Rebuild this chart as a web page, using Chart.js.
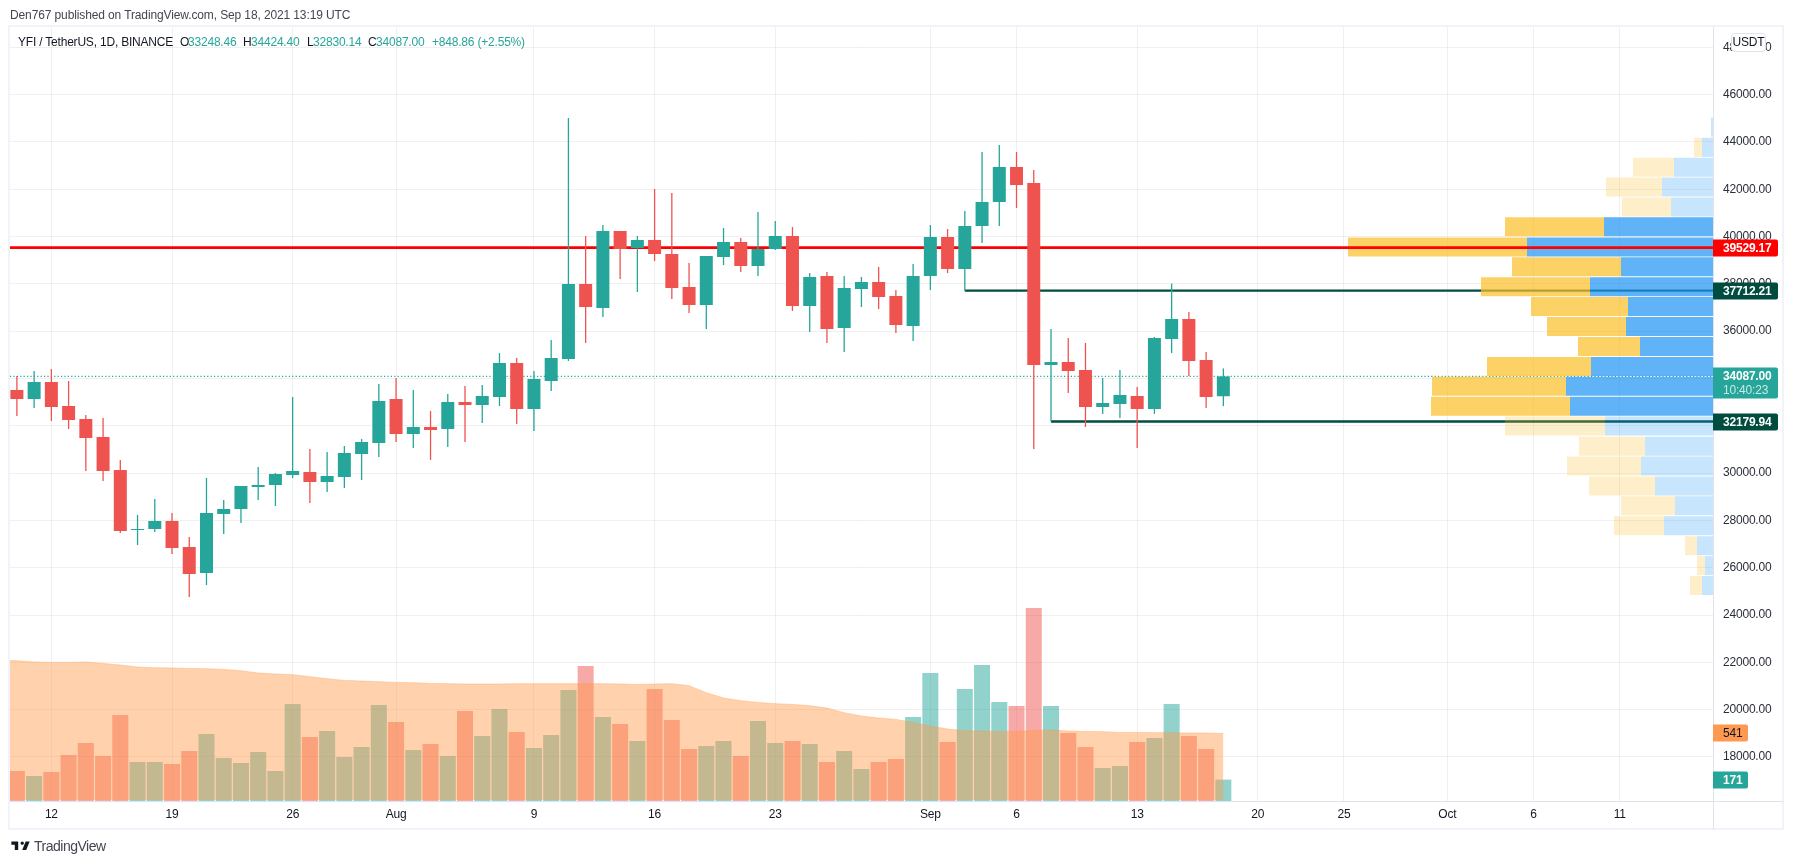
<!DOCTYPE html>
<html>
<head>
<meta charset="utf-8">
<title>YFI / TetherUS</title>
<script src="https://cdn.jsdelivr.net/npm/chart.js"></script>
<style>
  html, body { margin: 0; padding: 0; background: #fff; overflow: hidden; }
  body { width: 1793px; height: 864px; position: relative; font-family: "Liberation Sans", sans-serif; color: #434651; }
  canvas { position: absolute; left: 0; top: 0; }
  .txt { position: absolute; white-space: nowrap; font-size: 12px; line-height: 14px; letter-spacing: -0.2px; }
  .lab { color: #131722; top: 35px; }
  .up { color: #26a69a; top: 35px; }
  #usdt { position: absolute; left: 1731px; top: 33px; width: 33px; height: 17px; line-height: 17px; text-align: center;
          background: #fff; border: 1px solid #e0e3eb; border-radius: 4px; font-size: 12px; letter-spacing: -0.2px; color: #131722; }
  #logo { position: absolute; left: 10px; top: 838px; }
</style>
</head>
<body>
<canvas id="chart" width="1793" height="864"></canvas>
<div class="txt" style="left:10px;top:8px;letter-spacing:-0.12px">Den767 published on TradingView.com, Sep 18, 2021 13:19 UTC</div>
<div class="txt lab" style="left:18px">YFI / TetherUS, 1D, BINANCE</div>
<div class="txt lab" style="left:180px">O</div>
<div class="txt up" style="left:188px">33248.46</div>
<div class="txt lab" style="left:243px">H</div>
<div class="txt up" style="left:251px">34424.40</div>
<div class="txt lab" style="left:307px">L</div>
<div class="txt up" style="left:313px">32830.14</div>
<div class="txt lab" style="left:368px">C</div>
<div class="txt up" style="left:376px">34087.00</div>
<div class="txt up" style="left:432px">+848.86 (+2.55%)</div>
<div id="usdt">USDT</div>
<svg id="logo" width="21" height="16" viewBox="0 0 36 28"><path fill="#131722" d="M14 6H2v6h6v9h6V6zm14 15h-7l6-15h7l-6 15zm-7-9a3 3 0 1 0 0-6 3 3 0 0 0 0 6z"/></svg>
<div class="txt" style="left:34px;top:838px;font-size:14px;line-height:17px;letter-spacing:-0.5px;color:#434651">TradingView</div>
<script>
// day of year 2021, 191 = Jul 10, 261 = Sep 18
const days = [191,192,193,194,195,196,197,198,199,200,201,202,203,204,205,206,207,208,209,210,211,212,213,214,215,216,217,218,219,220,221,222,223,224,225,226,227,228,229,230,231,232,233,234,235,236,237,238,239,240,241,242,243,244,245,246,247,248,249,250,251,252,253,254,255,256,257,258,259,260,261];

const opens = [33513,33133,33851,32837,32287,31526,30131,27595,27638,27976,
  26877,25778,28272,28483,29413,29497,29920,30047,29624,29836,
  30808,31273,33133,31653,31949,31865,33006,32879,33217,34654,
  32710,33894,34823,37994,36979,40234,39515,39854,39262,37867,
  37106,39135,39769,38755,39473,40023,37064,38332,36134,37782,
  38078,37486,36218,38332,39980,38628,40445,41460,42939,42263,
  34570,34697,34358,32795,32921,33259,32710,35669,36514,34781,
  33248.46];
const highs = [34105,34316,34401,33894,32456,32330,30554,28229,28906,28314,
  27299,29793,28863,29455,30258,30005,33217,31019,30892,31146,
  31442,33767,34020,33513,32625,33344,33682,33724,35077,34866,
  34316,35627,45011,40023,40488,40234,40023,42009,41840,38881,
  39177,40361,39938,41037,40657,40403,38459,38501,38332,38290,
  38712,37740,38839,40488,40319,41079,43573,43869,43573,42812,
  36092,35711,35500,34020,34358,33640,35753,38011,36810,35119,
  34424.40];
const lows = [32414,32752,32203,31865,30089,29667,27468,26961,27511,26581,
  24763,25270,27426,27891,28863,28610,29793,28737,29202,29371,
  29709,30681,31315,31061,30554,31104,31315,32118,32837,32076,
  31780,33471,34739,35500,36599,38205,37656,38966,37360,36768,
  36092,38797,38501,38332,39431,36852,35965,35500,35119,37022,
  36937,35922,35584,37740,38459,37712,39727,40445,41206,31019,
  32180,33386,31949,32499,32330,31061,32499,35077,34105,32752,
  32830.14];
const closes = [33133,33851,32795,32245,31484,30089,27553,27638,27976,26834,
  25735,28314,28483,29455,29497,29962,30089,29624,29878,30850,
  31315,33048,31653,31949,31822,33006,32879,33259,34654,32710,
  33978,34866,37994,37022,40234,39473,39854,39262,37825,37106,
  39177,39769,38755,39473,40023,37064,38290,36092,37825,38078,
  37444,36261,38332,39980,38628,40445,41460,42939,42178,34570,
  34697,34316,32795,32964,33302,32710,35711,36514,34739,33217,
  34087];
const volumes = [240,200,232,368,464,360,688,312,312,296,
  400,536,344,304,392,240,776,512,560,352,
  432,768,632,408,456,360,720,520,736,552,
  424,528,888,1080,672,616,480,896,648,416,
  440,480,360,640,464,480,456,312,400,256,
  312,336,672,1024,472,896,1088,792,760,1544,
  760,544,432,264,280,472,504,776,520,416,
  171];
// volume moving average, first value is Jul 9 (off the left edge)
const volumeMaDays = [190].concat(days);
const volumeMa = [1126,1123,1112,1109,1109,1112,1101,1088,1072,1067,1064,1061,1059,1053,1043,1024,1016,1011,995,979,965,960,955,
  949,947,941,939,936,936,936,939,939,939,939,939,939,936,
  933,936,939,923,867,824,803,789,779,773,763,744,707,680,664,653,629,
  600,576,563,560,557,557,565,568,560,557,555,549,549,547,547,544,544,541];

// visible range volume profile rows, bottom to top
const vpPrices = [25250,26090,26930,27780,28620,29460,30300,31140,31990,32830,33670,34510,35350,36200,37040,37880,38720,39560,40410,41250,42090,42930,43770,44620];
const vpUp = [11,8,16,49,38,58,72,68,108,143,147,122,73,87,85,123,92,186,109,42,51,39,11,2];
const vpDown = [12,8,12,50,54,66,74,66,100,139,134,104,62,79,97,109,109,179,99,49,56,41,8,0];
const vpValueArea = [0,0,0,0,0,0,0,0,0,1,1,1,1,1,1,1,1,1,1,0,0,0,0,0];

const priceTicks = [18000,20000,22000,24000,26000,28000,30000,32000,34000,36000,38000,40000,42000,44000,46000,48000];
const timeTickDays = [193,200,207,213,221,228,235,244,249,256,263,268,274,279,284];
const timeTickLabels = ['12','19','26','Aug','9','16','23','Sep','6','13','20','25','Oct','6','11'];

const lastPrice = 34087.00;
const resistance = 39529.17;
const level1 = 37712.21;
const level1Start = 246; // Sep 3
const level2 = 32179.94;
const level2Start = 251; // Sep 8
const lastVolumeMa = 541;
const lastVolume = 171;

const UP = '#26a69a', DOWN = '#ef5350', DARK = '#004d40';
const GRID = 'rgba(42,46,57,0.07)';
const TICK_FONT = { family: '"Liberation Sans"', size: 12 };
const dirColor = days.map((d, i) => closes[i] >= opens[i] ? UP : DOWN);
const volColor = days.map((d, i) => closes[i] >= opens[i] ? 'rgba(38,166,154,0.5)' : 'rgba(239,83,80,0.5)');

const xMin = 190.6, xMax = 289.41;
const yMin = 16140, yMax = 48857;

function hLine(value, from, to, color, width, order, dash) {
  return {
    type: 'line', xAxisID: 'x', yAxisID: 'y', order: order,
    data: [{x: from, y: value}, {x: to, y: value}],
    borderColor: color, borderWidth: width, borderDash: dash || [], pointRadius: 0, tension: 0
  };
}

const furniture = {
  id: 'furniture',
  beforeDraw(chart) {
    const c = chart.ctx;
    c.letterSpacing = '-0.2px';
    c.save();
    c.strokeStyle = '#f0f3fa';
    c.lineWidth = 2;
    c.strokeRect(9, 26, 1774, 803);
    c.restore();
  },
  afterDraw(chart) {
    const c = chart.ctx, y = chart.scales.y, v = chart.scales.v;
    const a = chart.chartArea;
    c.save();
    c.strokeStyle = '#e0e3eb';
    c.lineWidth = 1;
    c.beginPath();
    c.moveTo(a.right + 0.5, a.top); c.lineTo(a.right + 0.5, 829);
    c.moveTo(a.left, a.bottom + 0.5); c.lineTo(1783, a.bottom + 0.5);
    c.stroke();

    function tag(py, text, bg, fg, w, weight) {
      c.fillStyle = bg;
      c.beginPath();
      c.roundRect(a.right, Math.round(py) - 8.5, w, 17, [0, 2, 2, 0]);
      c.fill();
      c.fillStyle = fg;
      c.font = weight + ' 12px "Liberation Sans"';
      c.textAlign = 'left';
      c.textBaseline = 'middle';
      c.fillText(text, a.right + 10, Math.round(py) + 0.5);
    }
    tag(y.getPixelForValue(resistance), resistance.toFixed(2), '#ff0000', '#fff', 65, 'bold');
    tag(y.getPixelForValue(level1), level1.toFixed(2), DARK, '#fff', 65, 'bold');
    tag(y.getPixelForValue(level2), level2.toFixed(2), DARK, '#fff', 65, 'bold');
    tag(v.getPixelForValue(lastVolumeMa), String(lastVolumeMa), '#ff9850', '#131722', 35, 'normal');
    tag(v.getPixelForValue(lastVolume), String(lastVolume), UP, '#fff', 35, 'bold');

    // last price tag with countdown
    const py = Math.round(y.getPixelForValue(lastPrice));
    c.fillStyle = UP;
    c.beginPath();
    c.roundRect(a.right, py - 8.5, 65, 31, [0, 2, 2, 0]);
    c.fill();
    c.fillStyle = '#fff';
    c.font = 'bold 12px "Liberation Sans"';
    c.fillText(lastPrice.toFixed(2), a.right + 10, py + 0.5);
    c.fillStyle = 'rgba(255,255,255,0.75)';
    c.font = '12px "Liberation Sans"';
    c.fillText('10:40:23', a.right + 10, py + 15);
    c.restore();
  }
};

new Chart(document.getElementById('chart'), {
  type: 'bar',
  plugins: [furniture],
  data: {
    datasets: [
      // candle bodies
      { label: 'body', order: 1, xAxisID: 'x', yAxisID: 'y', grouped: false,
        data: days.map((d, i) => ({x: d, y: [opens[i], closes[i]]})),
        backgroundColor: dirColor, maxBarThickness: 13, barPercentage: 1, categoryPercentage: 1, inflateAmount: 0 },
      // wicks
      { label: 'wick', order: 2, xAxisID: 'x', yAxisID: 'y', grouped: false,
        data: days.map((d, i) => ({x: d, y: [lows[i], highs[i]]})),
        backgroundColor: dirColor, maxBarThickness: 1.3, barPercentage: 1, categoryPercentage: 1, inflateAmount: 0 },
      hLine(resistance, xMin, xMax, '#ff0000', 2.6, 3),
      // volume profile
      { label: 'vp up', order: 4, indexAxis: 'y', xAxisID: 'px', yAxisID: 'py', grouped: false,
        data: vpPrices.map((p, i) => ({y: p, x: [0, vpUp[i]]})),
        backgroundColor: vpValueArea.map(f => f ? 'rgba(33,150,243,0.72)' : 'rgba(33,150,243,0.25)'),
        maxBarThickness: 19, barPercentage: 1, categoryPercentage: 1, inflateAmount: 0 },
      { label: 'vp down', order: 5, indexAxis: 'y', xAxisID: 'px', yAxisID: 'py', grouped: false,
        data: vpPrices.map((p, i) => ({y: p, x: [vpUp[i], vpUp[i] + vpDown[i]]})),
        backgroundColor: vpValueArea.map(f => f ? 'rgba(251,192,45,0.72)' : 'rgba(251,192,45,0.25)'),
        maxBarThickness: 19, barPercentage: 1, categoryPercentage: 1, inflateAmount: 0 },
      hLine(level1, level1Start, xMax, DARK, 2.4, 6),
      hLine(level2, level2Start, xMax, DARK, 2.4, 6),
      hLine(lastPrice, xMin, xMax, UP, 1.4, 7, [1.2, 2.2]),
      // volume MA area
      { type: 'line', label: 'vol ma', order: 8, xAxisID: 'x', yAxisID: 'v',
        data: volumeMaDays.map((d, i) => ({x: d, y: volumeMa[i]})),
        borderColor: 'rgba(255,152,72,0.35)', borderWidth: 1, pointRadius: 0, tension: 0,
        backgroundColor: 'rgba(255,152,72,0.45)', fill: {value: 8} },
      // volume
      { label: 'volume', order: 9, xAxisID: 'x', yAxisID: 'v', grouped: false,
        data: days.map((d, i) => ({x: d, y: volumes[i]})),
        backgroundColor: volColor, maxBarThickness: 16, barPercentage: 1, categoryPercentage: 1, inflateAmount: 0 }
    ]
  },
  options: {
    responsive: false,
    animation: false,
    events: [],
    layout: { padding: { left: 10, top: 27, right: 10, bottom: 35 } },
    plugins: { legend: { display: false }, tooltip: { enabled: false } },
    scales: {
      x: {
        type: 'linear', position: 'bottom', min: xMin, max: xMax, offset: false,
        grid: { color: GRID, drawTicks: false, offset: false },
        border: { display: false },
        afterFit(s) { s.height = 28; },
        afterBuildTicks(s) { s.ticks = timeTickDays.map(d => ({value: d})); },
        ticks: {
          autoSkip: false, maxRotation: 0, padding: 6,
          color: '#131722',
          font: TICK_FONT,
          callback(val) { return timeTickLabels[timeTickDays.indexOf(val)]; }
        }
      },
      y: {
        type: 'linear', position: 'right', min: yMin, max: yMax, offset: false,
        grid: { color: GRID, drawTicks: false, offset: false },
        border: { display: false },
        afterFit(s) { s.width = 70; },
        afterBuildTicks(s) { s.ticks = priceTicks.map(p => ({value: p})); },
        ticks: {
          padding: 10, crossAlign: 'near', autoSkip: false,
          color: '#2a2e39',
          font: TICK_FONT,
          callback(val) { return val.toFixed(2); }
        }
      },
      v: { type: 'linear', axis: 'y', position: 'right', display: false, min: 0, max: 6192, offset: false, grid: { offset: false } },
      px: { type: 'linear', axis: 'x', position: 'bottom', display: false, reverse: true, min: 0, max: 1703, offset: false, grid: { offset: false } },
      py: { type: 'linear', axis: 'y', position: 'right', display: false, min: yMin, max: yMax, offset: false, grid: { offset: false } }
    }
  }
});
</script>
</body>
</html>
